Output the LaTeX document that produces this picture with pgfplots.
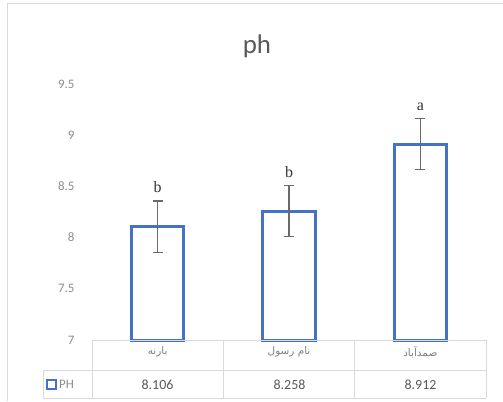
\documentclass[border=0pt]{standalone}
\usepackage{fontspec}
\setmainfont{Carlito}
\newfontfamily\serifletters{Liberation Serif}
\newfontfamily\fa[Script=Arabic]{DejaVu Sans}
\usepackage{pgfplots}
\pgfplotsset{compat=1.18}
\usepackage{pgfplotstable}
\TeXXeTstate=1
\definecolor{barblue}{HTML}{4472C4}
\definecolor{ticktext}{HTML}{8C8C8C}
\definecolor{tabline}{HTML}{D9D9D9}
\definecolor{titlecol}{HTML}{595959}
\definecolor{errcol}{HTML}{6A6A6A}
\pgfplotstableread{
x y err lab
0 8.106 0.25 b
1 8.258 0.25 b
2 8.912 0.25 a
}\phdata
\begin{document}
\begin{tikzpicture}[x=1bp,y=1bp]
\useasboundingbox (0,0) rectangle (503,401);
% outer frame
\draw[tabline, line width=1bp] (7,0) -- (7,397) -- (503,397);
\begin{axis}[
  name=ax,
  at={(92bp,61bp)}, anchor=south west,
  scale only axis, width=394bp, height=256bp,
  xmin=-0.5, xmax=2.5, ymin=7, ymax=9.5,
  clip=false,
  axis line style={draw=none},
  tick style={draw=none},
  ytick={7,7.5,8,8.5,9,9.5},
  xtick={0,1,2},
  xticklabels={{\fa\beginR بارنه\endR},{\fa\beginR نام رسول\endR},{\fa\beginR صمدآباد\endR}},
  xticklabel style={font=\fontsize{10.5}{12}\selectfont, color=ticktext!90!black, anchor=center, yshift=-12bp},
  yticklabel style={font=\fontsize{13}{15}\selectfont, color=ticktext, xshift=-14bp},
  /pgf/number format/assume math mode=true,
]
% bars
\addplot[draw=barblue, line width=3bp, fill=white] coordinates {(-0.2,7) (-0.2,8.106) (0.2,8.106) (0.2,7)} -- cycle;
\addplot[draw=barblue, line width=3bp, fill=white] coordinates {(0.8,7) (0.8,8.258) (1.2,8.258) (1.2,7)} -- cycle;
\addplot[draw=barblue, line width=3bp, fill=white] coordinates {(1.8,7) (1.8,8.912) (2.2,8.912) (2.2,7)} -- cycle;
% error bars and letters
\addplot[draw=none, mark=none,
  error bars/.cd, y dir=both, y explicit,
  error bar style={color=errcol, line width=1.3bp},
  error mark options={rotate=90, mark size=5bp, line width=1.3bp, color=errcol}]
  table[x=x, y=y, y error=err] {\phdata};
\addplot[draw=none, mark=none, nodes near coords, point meta=explicit symbolic,
  every node near coord/.append style={font=\serifletters\fontsize{16}{18}\selectfont, color=black!80, anchor=base, yshift=34bp}]
  table[x=x, y=y, meta=lab] {\phdata};
\end{axis}
% data table lines
\draw[tabline, line width=1bp] (92,61) -- (486,61);
\draw[tabline, line width=1bp] (43,30.5) -- (486,30.5);
\draw[tabline, line width=1bp] (43,3) -- (486,3);
\foreach \xx in {92,223,354,486} {\draw[tabline, line width=1bp] (\xx,61) -- (\xx,3);}
\draw[tabline, line width=1bp] (43,30.5) -- (43,3);
% legend key and row label
\draw[barblue, line width=2.2bp, fill=white] (47,12) rectangle (56,21);
\node[anchor=west, font=\fontsize{13}{15}\selectfont, color=ticktext, inner sep=0] at (59,16.5) {PH};
% values row
\node[font=\fontsize{14}{16}\selectfont, color=titlecol] at (157.5,16) {8.106};
\node[font=\fontsize{14}{16}\selectfont, color=titlecol] at (289.5,16) {8.258};
\node[font=\fontsize{14}{16}\selectfont, color=titlecol] at (420.5,16) {8.912};
% title
\node[anchor=base, font=\fontsize{27}{30}\selectfont, color=titlecol] at (257,348) {ph};
\end{tikzpicture}
\end{document}
